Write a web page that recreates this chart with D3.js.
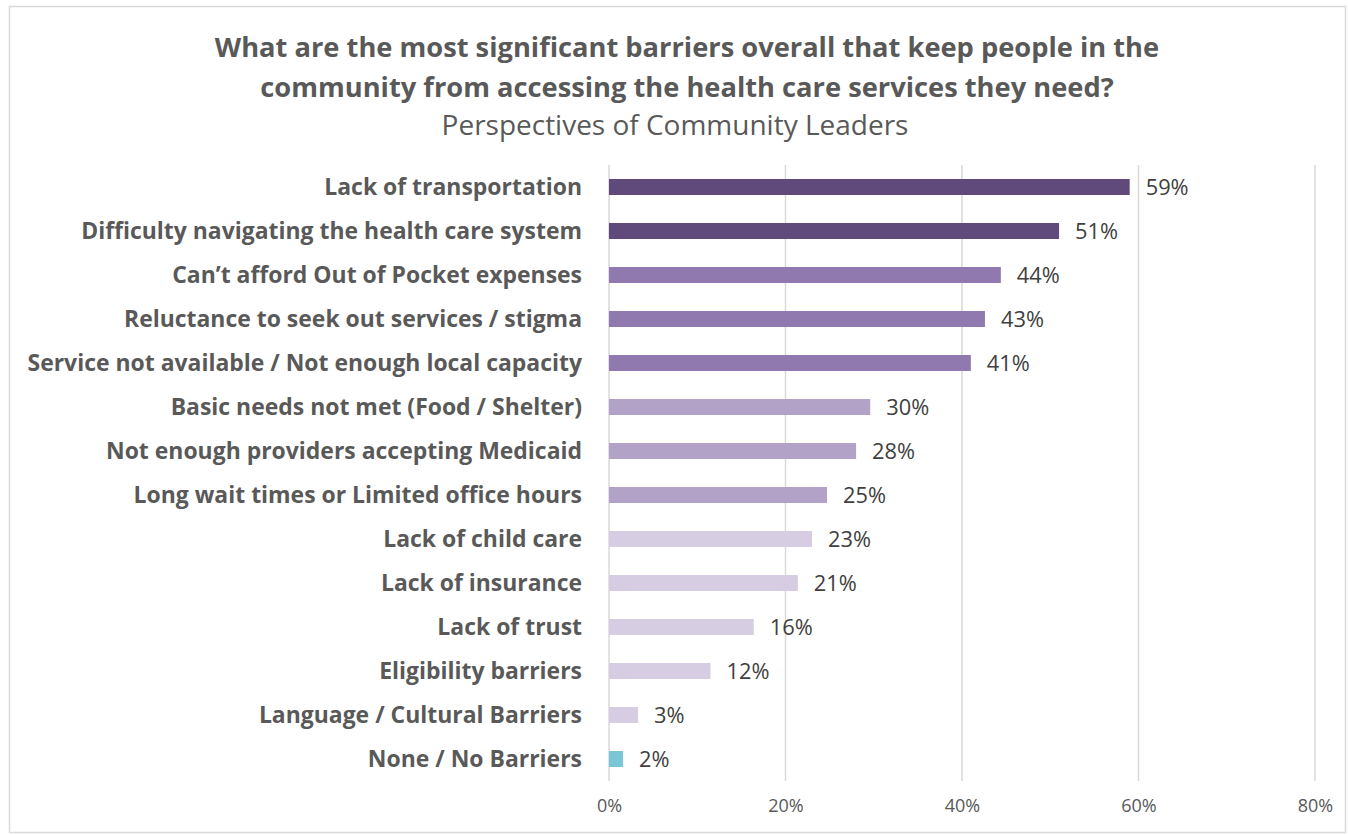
<!DOCTYPE html>
<html><head><meta charset="utf-8">
<script src="https://cdn.jsdelivr.net/npm/d3@7"></script>
<style>body{margin:0;background:#fff;}svg{display:block;}</style>
</head><body>
<svg id="chart" width="1348" height="835"></svg>
<script>
const categories = [
  "Lack of transportation",
  "Difficulty navigating the health care system",
  "Can\u2019t afford Out of Pocket expenses",
  "Reluctance to seek out services / stigma",
  "Service not available / Not enough local capacity",
  "Basic needs not met (Food / Shelter)",
  "Not enough providers accepting Medicaid ",
  "Long wait times or Limited office hours",
  "Lack of child care",
  "Lack of insurance ",
  "Lack of trust",
  "Eligibility barriers",
  "Language / Cultural Barriers",
  "None / No Barriers"
];
const values = [59, 51, 44.4, 42.6, 41, 29.6, 28, 24.7, 23, 21.4, 16.4, 11.5, 3.3, 1.6];
const colorGroups = ["dark","dark","mid","mid","mid","light","light","light","pale","pale","pale","pale","pale","teal"];
const palette = {dark:"#604A7B", mid:"#8F79AE", light:"#B3A2C7", pale:"#D7CDE2", teal:"#7AC5D6"};
const xTicks = [0, 20, 40, 60, 80];
const titleLines = ["What are the most significant barriers overall that keep people in the",
                    "community from accessing the health care services they need?"];
const subtitle = "Perspectives of Community Leaders";

const svg = d3.select("#chart");
const font = "'Open Sans', 'Liberation Sans', sans-serif";

svg.append("rect").attr("x",9.5).attr("y",6.5).attr("width",1336).attr("height",826)
  .attr("fill","#fff").attr("stroke","#d9d9d9").attr("stroke-width",1.5);

function fitText(sel, targetWidth){
  const w = sel.node().getComputedTextLength();
  const fs = parseFloat(sel.attr("font-size"));
  sel.attr("font-size", fs*targetWidth/w);
}

const x = d3.scaleLinear().domain([0,80]).range([609,1315]);
const y = d3.scaleBand().domain(categories).range([165,781]).paddingInner(0.636).paddingOuter(0.318);

// gridlines
svg.append("g").selectAll("line").data(xTicks).join("line")
  .attr("x1",d=>x(d)).attr("x2",d=>x(d)).attr("y1",165).attr("y2",781)
  .attr("stroke","#d9d9d9").attr("stroke-width",1.5);

// title
const t1 = svg.append("text").attr("x",687).attr("y",57).attr("text-anchor","middle")
  .attr("font-family",font).attr("font-weight","bold").attr("font-size",24).attr("fill","#595959").text(titleLines[0]);
fitText(t1, 945);
const t2 = svg.append("text").attr("x",687).attr("y",97).attr("text-anchor","middle")
  .attr("font-family",font).attr("font-weight","bold").attr("font-size",24).attr("fill","#595959").text(titleLines[1]);
t2.attr("font-size", t1.attr("font-size"));
const st = svg.append("text").attr("x",675).attr("y",135).attr("text-anchor","middle")
  .attr("font-family",font).attr("font-size",22).attr("fill","#595959").text(subtitle);
fitText(st, 467);

// bars
svg.append("g").selectAll("rect").data(values).join("rect")
  .attr("x",x(0)).attr("y",(d,i)=>y(categories[i]))
  .attr("width",d=>x(d)-x(0)).attr("height",y.bandwidth())
  .attr("fill",(d,i)=>palette[colorGroups[i]]);

// category labels
const labels = svg.append("g").selectAll("text").data(categories).join("text")
  .attr("x",582).attr("y",d=>y(d)+y.bandwidth()/2).attr("dy","0.36em")
  .attr("text-anchor","end").attr("font-family",font).attr("font-weight","bold")
  .attr("font-size",20).attr("fill","#595959").text(d=>d);
const longest = labels.filter((d,i)=>i===4);
fitText(longest, 555);
labels.attr("font-size", longest.attr("font-size"));

// value labels
const vl = svg.append("g").selectAll("text").data(values).join("text")
  .attr("x",d=>x(d)+16).attr("y",(d,i)=>y(categories[i])+y.bandwidth()/2).attr("dy","0.36em")
  .attr("font-family",font).attr("font-size",18).attr("fill","#404040")
  .text(d=>Math.round(d)+"%");
fitText(vl.filter((d,i)=>i===0), 43);
vl.attr("font-size", vl.filter((d,i)=>i===0).attr("font-size"));

// x axis tick labels
const ax = svg.append("g").attr("transform","translate(0,781)")
  .call(d3.axisBottom(x).tickValues(xTicks).tickSize(0).tickPadding(18).tickFormat(d=>d+"%"));
ax.select(".domain").remove();
ax.selectAll("text").attr("font-family",font).attr("font-size",18).attr("fill","#595959");
</script>
</body></html>
